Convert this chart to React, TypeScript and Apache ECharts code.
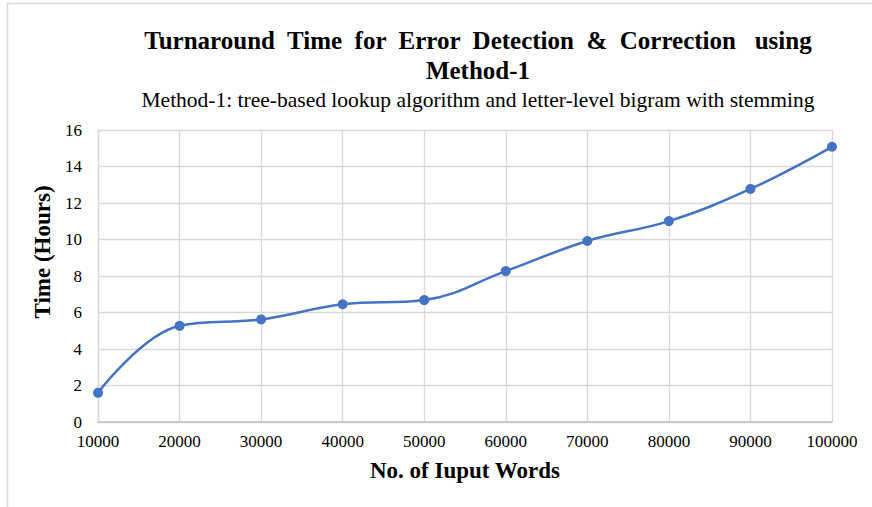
import React, { useEffect, useRef } from "react";
import * as echarts from "echarts";

const categories = ["10000", "20000", "30000", "40000", "50000", "60000", "70000", "80000", "90000", "100000"];
const timeHours = [1.6, 5.27, 5.62, 6.45, 6.68, 8.27, 9.92, 11.01, 12.77, 15.08];
const yTicks = { min: 0, max: 16, interval: 2 };

const titleText = "Turnaround  Time  for  Error  Detection  &  Correction   using\nMethod-1";
const subtitleText = "Method-1: tree-based lookup algorithm and letter-level bigram with stemming";
const xName = "No. of Iuput Words";
const yName = "Time (Hours)";

const FONT = "'Liberation Serif', 'Times New Roman', serif";

export default function App() {
  const ref = useRef<HTMLDivElement>(null);
  useEffect(() => {
    if (!ref.current) return;
    const chart = echarts.init(ref.current, undefined, { renderer: "svg" });
    chart.setOption({
      animation: false,
      backgroundColor: "#ffffff",
      title: [
        {
          text: titleText,
          left: 473,
          top: 20,
          textAlign: "center",
          textStyle: { fontFamily: FONT, fontSize: 25, fontWeight: "bold", color: "#000", lineHeight: 30 },
        },
        {
          text: subtitleText,
          left: 473,
          top: 84,
          textAlign: "center",
          textStyle: { fontFamily: FONT, fontSize: 21.5, fontWeight: "normal", color: "#000" },
        },
      ],
      graphic: [
        {
          type: "rect",
          shape: { x: 7.5, y: 3.5, width: 900, height: 520 },
          style: { fill: "none", stroke: "#d9d9d9", lineWidth: 1.5 },
          silent: true,
        },
        {
          type: "text",
          x: 42,
          y: 252,
          rotation: Math.PI / 2,
          style: {
            text: yName,
            fontFamily: FONT,
            fontSize: 23,
            fontWeight: "bold",
            fill: "#000",
            align: "center",
            verticalAlign: "middle",
          },
          silent: true,
        },
      ],
      grid: { left: 98, right: 40, top: 130, bottom: 85 },
      xAxis: {
        type: "category",
        data: categories,
        boundaryGap: false,
        name: xName,
        nameLocation: "middle",
        nameGap: 37,
        nameTextStyle: { fontFamily: FONT, fontSize: 23, fontWeight: "bold", color: "#000" },
        axisLine: { lineStyle: { color: "#bfbfbf", width: 1.5 } },
        axisTick: { show: false },
        axisLabel: { fontFamily: FONT, fontSize: 17, color: "#000", margin: 11 },
        splitLine: { show: true, lineStyle: { color: "#d9d9d9", width: 1.3 } },
      },
      yAxis: {
        type: "value",
        min: yTicks.min,
        max: yTicks.max,
        interval: yTicks.interval,
        axisLine: { show: true, lineStyle: { color: "#d9d9d9", width: 1.3 } },
        axisTick: { show: false },
        axisLabel: { fontFamily: FONT, fontSize: 17, color: "#000", margin: 16 },
        splitLine: { show: true, lineStyle: { color: "#d9d9d9", width: 1.3 } },
      },
      series: [
        {
          type: "line",
          data: timeHours,
          smooth: 0.4,
          symbol: "circle",
          symbolSize: 10,
          itemStyle: { color: "#4472C4" },
          lineStyle: { color: "#4472C4", width: 2.5 },
        },
      ],
    });
    return () => chart.dispose();
  }, []);
  return <div ref={ref} style={{ position: "absolute", left: 0, top: 0, width: 872, height: 507 }} />;
}
